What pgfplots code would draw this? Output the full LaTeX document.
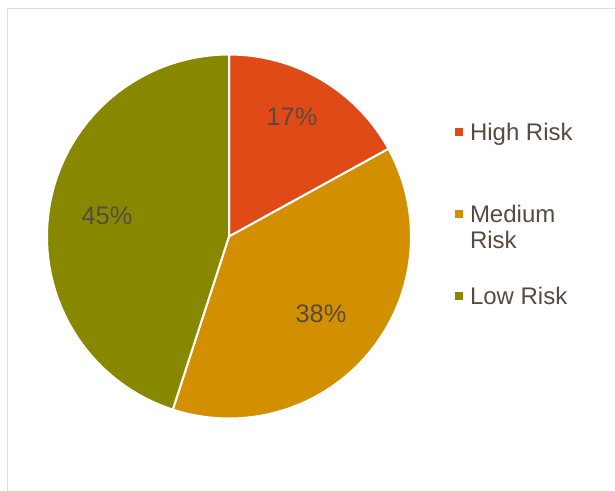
\documentclass[border=0pt]{standalone}
\usepackage{fontspec}
\setmainfont{Liberation Sans}
\usepackage{pgfplots}
\usepackage{pgfplotstable}
\pgfplotsset{compat=1.18}
\definecolor{highc}{RGB}{224,74,23}
\definecolor{medc}{RGB}{210,144,0}
\definecolor{lowc}{RGB}{136,136,0}
\definecolor{txtc}{RGB}{89,74,64}
\definecolor{framec}{RGB}{222,222,222}
\pgfplotstableread{
label value
High 17
Medium 38
Low 45
}\piedata
\pgfplotstablegetelem{0}{value}\of\piedata \edef\vA{\pgfplotsretval}
\pgfplotstablegetelem{1}{value}\of\piedata \edef\vB{\pgfplotsretval}
\pgfplotstablegetelem{2}{value}\of\piedata \edef\vC{\pgfplotsretval}
\pgfmathsetmacro{\aA}{90}
\pgfmathsetmacro{\aB}{90-3.6*\vA}
\pgfmathsetmacro{\aC}{\aB-3.6*\vB}
\pgfmathsetmacro{\aD}{\aC-3.6*\vC}
\newcommand{\legtext}[2]{\parbox[t][#1][t]{80pt}{\raggedright\strut #2\strut}}
\begin{document}
\begin{tikzpicture}
\begin{axis}[
  width=461.25pt, height=367.5pt, scale only axis,
  xmin=0, xmax=615, ymin=0, ymax=490,
  hide axis, clip=true,
  legend style={draw=none, fill=none, inner sep=0pt, outer sep=0pt,
    at={(axis cs:455,368)}, anchor=north west,
    font=\fontsize{18}{19.5}\selectfont, text=txtc,
    cells={anchor=base west}, column sep=5.25pt, row sep=0pt,
    nodes={inner sep=0pt, text depth=, text height=}},
  legend image code/.code={\fill[#1,draw=none] (0pt,3.4pt) rectangle (6pt,9.4pt);},
]
\addplot[fill=highc, draw=white, line width=1.5pt, domain=\aB:\aA, samples=90]
  ({229+182*cos(x)}, {253.5+182*sin(x)}) -- (axis cs:229,253.5) -- cycle;
\addlegendentry{\legtext{61.5pt}{High Risk}}
\addplot[fill=medc, draw=white, line width=1.5pt, domain=\aC:\aB, samples=120]
  ({229+182*cos(x)}, {253.5+182*sin(x)}) -- (axis cs:229,253.5) -- cycle;
\addlegendentry{\legtext{61.5pt}{Medium\\Risk}}
\addplot[fill=lowc, draw=white, line width=1.5pt, domain=\aD:\aC, samples=120]
  ({229+182*cos(x)}, {253.5+182*sin(x)}) -- (axis cs:229,253.5) -- cycle;
\addlegendentry{\legtext{19.5pt}{Low Risk}}
\node[font=\fontsize{19}{22}\selectfont, text=txtc] at (axis cs:292,373) {\vA\%};
\node[font=\fontsize{19}{22}\selectfont, text=txtc] at (axis cs:321,176) {\vB\%};
\node[font=\fontsize{19}{22}\selectfont, text=txtc] at (axis cs:107,274) {\vC\%};
\draw[framec, line width=1pt] (axis cs:7.5,-10) -- (axis cs:7.5,481.5) -- (axis cs:630,481.5);
\end{axis}
\pgfresetboundingbox
\useasboundingbox (current axis.south west) rectangle (current axis.north east);
\end{tikzpicture}
\end{document}
